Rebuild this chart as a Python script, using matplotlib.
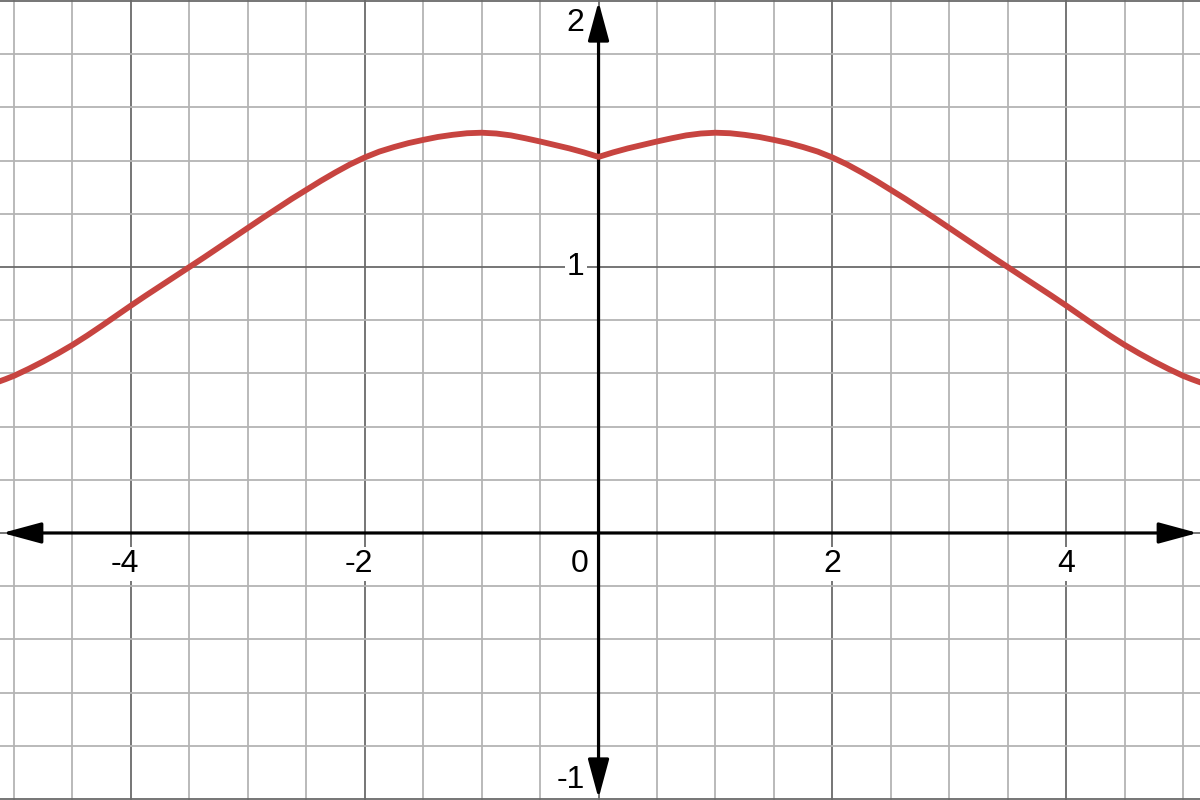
"""Desmos-style plot of a smooth curve with a cusp at x = 0."""

import matplotlib
matplotlib.use("Agg")
import matplotlib.pyplot as plt
from matplotlib.patches import FancyArrowPatch
import numpy as np

# curve values
x_vals = [-5.15, -5.075, -5.0, -4.875, -4.75, -4.625, -4.5, -4.375, -4.25, -4.125,
          -4.0, -3.875, -3.75, -3.625, -3.5, -3.375, -3.25, -3.125, -3.0, -2.875,
          -2.75, -2.625, -2.5, -2.375, -2.25, -2.125, -2.0, -1.875, -1.75, -1.625,
          -1.5, -1.375, -1.25, -1.125, -1.0, -0.875, -0.75, -0.625, -0.5, -0.375,
          -0.25, -0.125, 0.0,
          0.125, 0.25, 0.375, 0.5, 0.625, 0.75, 0.875, 1.0, 1.125, 1.25,
          1.375, 1.5, 1.625, 1.75, 1.875, 2.0, 2.125, 2.25, 2.375, 2.5,
          2.625, 2.75, 2.875, 3.0, 3.125, 3.25, 3.375, 3.5, 3.625, 3.75,
          3.875, 4.0, 4.125, 4.25, 4.375, 4.5, 4.625, 4.75, 4.875, 5.0,
          5.075, 5.15]
y_vals = [0.566, 0.578, 0.591, 0.617, 0.645, 0.675, 0.707, 0.742, 0.779, 0.817,
          0.855, 0.892, 0.928, 0.964, 1.000, 1.036, 1.073, 1.110, 1.147, 1.184,
          1.220, 1.256, 1.290, 1.324, 1.356, 1.386, 1.412, 1.434, 1.451, 1.466,
          1.478, 1.489, 1.497, 1.503, 1.505, 1.502, 1.495, 1.484, 1.472, 1.459,
          1.446, 1.431, 1.414,
          1.431, 1.446, 1.459, 1.472, 1.484, 1.495, 1.502, 1.505, 1.503, 1.497,
          1.489, 1.478, 1.466, 1.451, 1.434, 1.412, 1.386, 1.356, 1.324, 1.290,
          1.256, 1.220, 1.184, 1.147, 1.110, 1.073, 1.036, 1.000, 0.964, 0.928,
          0.892, 0.855, 0.817, 0.779, 0.742, 0.707, 0.675, 0.645, 0.617, 0.591,
          0.578, 0.566]

x_labels = [-4, -2, 2, 4]
y_labels = [1, 2, -1]

XMIN, XMAX = -5.12, 5.145
YMIN, YMAX = -1.004, 2.004

fig = plt.figure(figsize=(12, 8), dpi=100)
ax = fig.add_axes([0, 0, 1, 1])
ax.set_xlim(XMIN, XMAX)
ax.set_ylim(YMIN, YMAX)
for s in ax.spines.values():
    s.set_visible(False)
ax.set_xticks([])
ax.set_yticks([])

# grid: light minor lines, darker major lines
for gx in np.arange(-5.0, 5.01, 0.5):
    major = abs(gx % 2) < 1e-9
    ax.axvline(gx, color="#6a6a6a" if major else "#b4b4b4", lw=1.3, zorder=0)
for gy in np.arange(-1.0, 2.01, 0.2):
    major = abs(gy - round(gy)) < 1e-9
    ax.axhline(gy, color="#6a6a6a" if major else "#b4b4b4", lw=1.3, zorder=0)

# axes with arrowheads
style = "<|-|>,head_length=24,head_width=6.5"
for (x0, y0), (x1, y1) in [((XMIN + 0.02, 0), (XMAX - 0.02, 0)),
                           ((0, YMIN + 0.006), (0, YMAX - 0.006))]:
    ax.add_patch(FancyArrowPatch((x0, y0), (x1, y1), arrowstyle=style,
                                 mutation_scale=1, color="black", lw=2.3,
                                 joinstyle="round", shrinkA=0, shrinkB=0,
                                 zorder=4, clip_on=False))

# curve
ax.plot(x_vals, y_vals, color="#c74440", lw=4.2, solid_capstyle="round",
        solid_joinstyle="round", zorder=5)

font = dict(family=["Liberation Sans", "DejaVu Sans"], fontsize=23)
box = dict(facecolor="white", edgecolor="none", pad=1.5)
for v in x_labels:
    shift = -0.05 if v < 0 else 0.0
    ax.text(v + shift, -0.06, str(v), ha="center", va="top", bbox=box,
            zorder=3, **font)
ax.text(-0.09, -0.06, "0", ha="right", va="top", zorder=3, **font)
ax.text(-0.12, 1.0, "1", ha="right", va="center", bbox=box, zorder=3, **font)
ax.text(-0.12, 1.975, "2", ha="right", va="top", bbox=box, zorder=3, **font)
ax.text(-0.12, -0.985, "-1", ha="right", va="bottom", bbox=box, zorder=3, **font)

fig.savefig("out.png", dpi=100)
plt.close(fig)
